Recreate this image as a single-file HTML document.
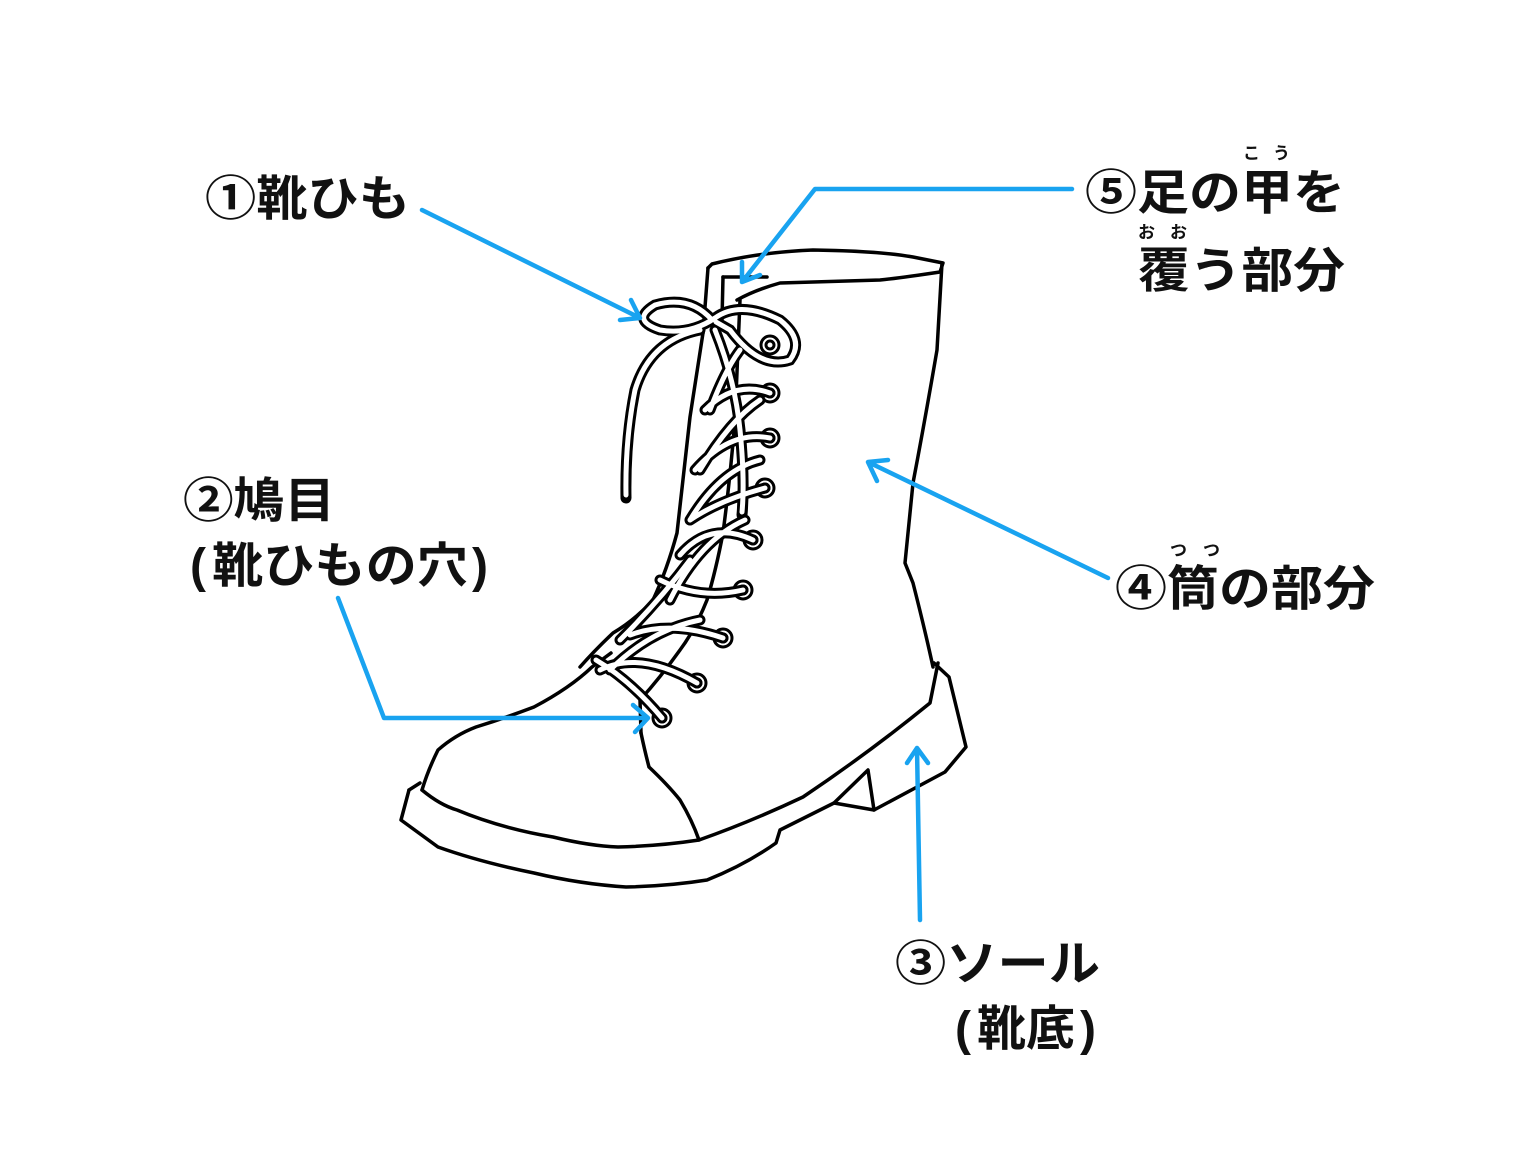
<!DOCTYPE html>
<html><head><meta charset="utf-8"><style>
html,body{margin:0;padding:0;background:#fff;}
svg{display:block;}
text{font-family:"Liberation Sans","Noto Sans CJK JP",sans-serif;font-weight:700;fill:#111;}
</style></head><body>
<svg width="1536" height="1152" viewBox="0 0 1536 1152" xmlns="http://www.w3.org/2000/svg">
<rect width="1536" height="1152" fill="#fff"/>
<g fill="none" stroke="#000" stroke-width="3.5" stroke-linejoin="round" stroke-linecap="round">
<path d="M409,790 L401,820 L438,847 Q480,862 534,873 Q580,884 626,887 Q670,886 707,880 Q745,865 776,843 L780,830 L834,803 L874,810 L945,772 L966,747 L949,677 L934,663"/>
<path d="M409,790 L420,783"/>
<path d="M834,803 L868,770 L874,810"/>
<path d="M422,790 Q440,805 457,810 Q500,828 553,837 Q590,846 618,847 Q660,846 699,840 Q750,822 803,797 Q870,752 930,703 L938,663"/>
<path d="M422,790 Q428,770 438,750 Q455,735 476,727 Q505,718 534,707 Q570,688 592,667 L611,653"/>
<path d="M641,733 Q645,752 649,767 Q668,785 680,800 Q692,820 699,840"/>
<path d="M942,263 L937,350 Q925,420 913,483 L905,563 L913,583 Q925,630 933,667"/>
<path d="M708,268 L712,264 Q760,252 813,250 Q880,251 913,257 L943,263 L940,272 Q900,278 880,280 Q820,282 780,283 Q755,290 737,300"/>
<path d="M708,268 L703,333"/>
<path d="M723,277 L767,277"/>
<path d="M723,277 L722,320"/>
<path d="M703,333 L690,417 Q683,480 677,533 Q667,570 653,600 Q635,620 613,633 Q595,650 580,667"/>
<path d="M740,300 L735,420 Q730,480 723,533 Q716,570 707,600 Q695,630 680,650 Q660,678 640,700 L641,733"/>
</g>
<g fill="#fff" stroke="#000" stroke-width="3">
<circle cx="770" cy="345" r="9"/><circle cx="770" cy="345" r="4"/>
<circle cx="770" cy="393" r="9"/><circle cx="770" cy="393" r="4"/>
<circle cx="770" cy="438" r="9"/><circle cx="770" cy="438" r="4"/>
<circle cx="765" cy="488" r="9"/><circle cx="765" cy="488" r="4"/>
<circle cx="753" cy="540" r="9"/><circle cx="753" cy="540" r="4"/>
<circle cx="743" cy="590" r="9"/><circle cx="743" cy="590" r="4"/>
<circle cx="723" cy="638" r="9"/><circle cx="723" cy="638" r="4"/>
<circle cx="697" cy="683" r="9"/><circle cx="697" cy="683" r="4"/>
<circle cx="662" cy="718" r="9"/><circle cx="662" cy="718" r="4"/>
</g>
<g fill="none" stroke-linecap="round">
<g stroke="#000" stroke-width="11">
<path id="l" d="M662,718 Q630,680 596,660 M697,683 Q640,650 600,670 M723,638 Q670,620 630,635 M743,590 Q700,600 660,580 M753,540 Q710,520 680,555 M765,488 Q720,500 690,520 M770,438 Q730,430 695,470 M770,393 Q735,380 705,410 M620,640 Q660,600 690,560 M610,670 Q650,630 700,620 M670,600 Q700,540 745,520 M690,520 Q720,470 760,460 M700,470 Q730,420 760,400 M710,410 Q725,370 740,350"/>
<path d="M712,320 Q690,295 655,305 Q630,320 660,330 Q690,335 715,318 Q740,300 780,320 Q805,340 790,360 Q760,370 730,330 L716,322"/>
<path d="M700,330 Q650,340 635,390 Q625,440 626,498"/>
<path d="M715,330 Q735,380 740,430 Q745,480 742,515"/>
</g>
<g stroke="#fff" stroke-width="5">
<use href="#l"/>
<path d="M712,320 Q690,295 655,305 Q630,320 660,330 Q690,335 715,318 Q740,300 780,320 Q805,340 790,360 Q760,370 730,330 L716,322"/>
<path d="M700,330 Q650,340 635,390 Q625,440 626,495"/>
<path d="M715,330 Q735,380 740,430 Q745,480 742,512"/>
</g>
</g>
<g fill="none" stroke="#19a3f0" stroke-width="4.5" stroke-linecap="round" stroke-linejoin="round">
<path d="M422,210 L640,318 M640,318 L631,300 M640,318 L620,320"/>
<path d="M1072,189 L815,189 L742,282 M742,282 L742,262 M742,282 L760,275"/>
<path d="M1108,578 L868,462 M868,462 L877,481 M868,462 L888,460"/>
<path d="M338,598 L384,718 L648,718 M648,718 L633,705 M648,718 L635,732"/>
<path d="M920,920 L917,748 M917,748 L907,763 M917,748 L928,763"/>
</g>
<text x="205" y="215" font-size="48" textLength="205" lengthAdjust="spacingAndGlyphs">①靴ひも</text>
<text x="183" y="517" font-size="48" textLength="152" lengthAdjust="spacingAndGlyphs">②鳩目</text>
<text x="190" y="582" font-size="48">(</text>
<text x="212" y="582" font-size="48" textLength="256" lengthAdjust="spacingAndGlyphs">靴ひもの穴</text>
<text x="472" y="582" font-size="48">)</text>
<text x="1085" y="209" font-size="48" textLength="260" lengthAdjust="spacingAndGlyphs">⑤足の甲を</text>
<text x="1243" y="159" font-size="17" textLength="47" lengthAdjust="spacing">こう</text>
<text x="1138" y="287" font-size="48" textLength="207" lengthAdjust="spacingAndGlyphs">覆う部分</text>
<text x="1138" y="238" font-size="17" textLength="49" lengthAdjust="spacing">おお</text>
<text x="1115" y="605" font-size="48" textLength="260" lengthAdjust="spacingAndGlyphs">④筒の部分</text>
<text x="1170" y="556" font-size="17" textLength="50" lengthAdjust="spacing">つつ</text>
<text x="895" y="980" font-size="48" textLength="205" lengthAdjust="spacingAndGlyphs">③ソール</text>
<text x="955" y="1045" font-size="48">(</text>
<text x="977" y="1045" font-size="48" textLength="98" lengthAdjust="spacingAndGlyphs">靴底</text>
<text x="1080" y="1045" font-size="48">)</text>
</svg>
</body></html>
